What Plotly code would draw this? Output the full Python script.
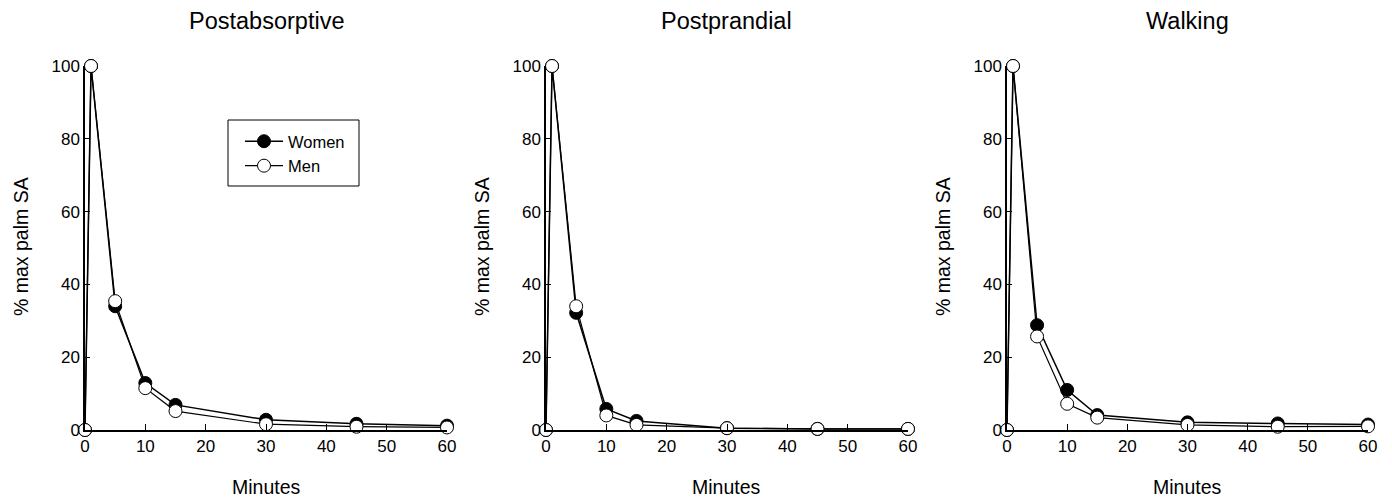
import plotly.graph_objects as go

# sampling times (minutes)
minutes = [0, 1, 5, 10, 15, 30, 45, 60]

panels = ["Postabsorptive", "Postprandial", "Walking"]

# % of maximal palm sweat area
women_post = [0, 100, 34.0, 12.9, 6.9, 2.8, 1.7, 1.2]
men_post = [0, 100, 35.4, 11.5, 5.2, 1.6, 0.9, 0.7]

women_prand = [0, 100, 32.2, 5.8, 2.5, 0.5, 0.3, 0.3]
men_prand = [0, 100, 34.0, 4.0, 1.4, 0.5, 0.3, 0.3]

women_walk = [0, 100, 28.8, 11.0, 4.1, 2.1, 1.8, 1.5]
men_walk = [0, 100, 25.7, 7.2, 3.4, 1.4, 0.9, 1.0]

women = [women_post, women_prand, women_walk]
men = [men_post, men_prand, men_walk]

W, H = 1392, 502
FONT = "Liberation Sans, Arial, sans-serif"
OFF = 8  # page body margin offsets the figure by this many px


def px_x(p):
    return (p - OFF) / W


def px_y(p):
    return 1 - (p - OFF) / H


# pixel positions of each panel (left, right) in the target picture
x_px = [(85, 447), (546, 908), (1007, 1368)]
y0_px, y100_px = 430, 66

fig = go.Figure()

for i in range(3):
    n = "" if i == 0 else str(i + 1)
    fig.add_trace(go.Scatter(
        x=minutes, y=women[i], mode="lines+markers", name="Women",
        xaxis="x" + n, yaxis="y" + n, showlegend=(i == 0),
        line=dict(color="black", width=1.5),
        marker=dict(symbol="circle", size=13, color="black",
                    line=dict(color="black", width=1)),
        cliponaxis=False,
    ))
    fig.add_trace(go.Scatter(
        x=minutes, y=men[i], mode="lines+markers", name="Men",
        xaxis="x" + n, yaxis="y" + n, showlegend=(i == 0),
        line=dict(color="black", width=1.2),
        marker=dict(symbol="circle", size=13, color="white",
                    line=dict(color="black", width=1)),
        cliponaxis=False,
    ))

layout = dict(
    width=W, height=H,
    margin=dict(l=0, r=0, t=0, b=0, autoexpand=False),
    paper_bgcolor="white", plot_bgcolor="white",
    font=dict(family=FONT, color="black"),
    showlegend=True,
    legend=dict(
        x=px_x(240), y=px_y(124), xanchor="left", yanchor="top",
        borderwidth=0, bgcolor="rgba(0,0,0,0)",
        font=dict(size=16.5, family=FONT),
        tracegroupgap=0, itemwidth=38,
    ),
    # legend frame
    shapes=[dict(type="rect", xref="paper", yref="paper",
                 x0=px_x(228), x1=px_x(359), y0=px_y(186), y1=px_y(120),
                 line=dict(color="black", width=1), layer="below")],
)

annotations = []
for i in range(3):
    n = "" if i == 0 else str(i + 1)
    l, r = x_px[i]
    layout["xaxis" + n] = dict(
        domain=[px_x(l), px_x(r)], range=[0, 60], anchor="y" + n,
        tickmode="array", tickvals=[0, 10, 20, 30, 40, 50, 60],
        ticks="inside", ticklen=6, tickcolor="black",
        showline=True, linecolor="black", linewidth=1.5,
        showgrid=False, zeroline=False, automargin=False,
        tickfont=dict(size=17, family=FONT), fixedrange=True,
    )
    layout["yaxis" + n] = dict(
        domain=[px_y(y0_px), px_y(y100_px)], range=[0, 100],
        anchor="x" + n,
        tickmode="array", tickvals=[0, 20, 40, 60, 80, 100],
        ticks="inside", ticklen=5, tickcolor="black",
        showline=True, linecolor="black", linewidth=1.5,
        showgrid=False, zeroline=False, automargin=False,
        tickfont=dict(size=17, family=FONT), fixedrange=True,
    )
    cx = (l + r) / 2
    annotations.append(dict(
        text=panels[i], x=px_x(cx), y=px_y(21), xref="paper", yref="paper",
        xanchor="center", yanchor="middle", showarrow=False,
        font=dict(size=23.5, family=FONT),
    ))
    annotations.append(dict(
        text="Minutes", x=px_x(cx), y=px_y(487), xref="paper", yref="paper",
        xanchor="center", yanchor="middle", showarrow=False,
        font=dict(size=19.5, family=FONT),
    ))
    annotations.append(dict(
        text="% max palm SA", x=px_x(l - 64), y=px_y(247),
        xref="paper", yref="paper", textangle=-90,
        xanchor="center", yanchor="middle", showarrow=False,
        font=dict(size=19.5, family=FONT),
    ))

layout["annotations"] = annotations
fig.update_layout(**layout)

fig.write_html("out.html")
